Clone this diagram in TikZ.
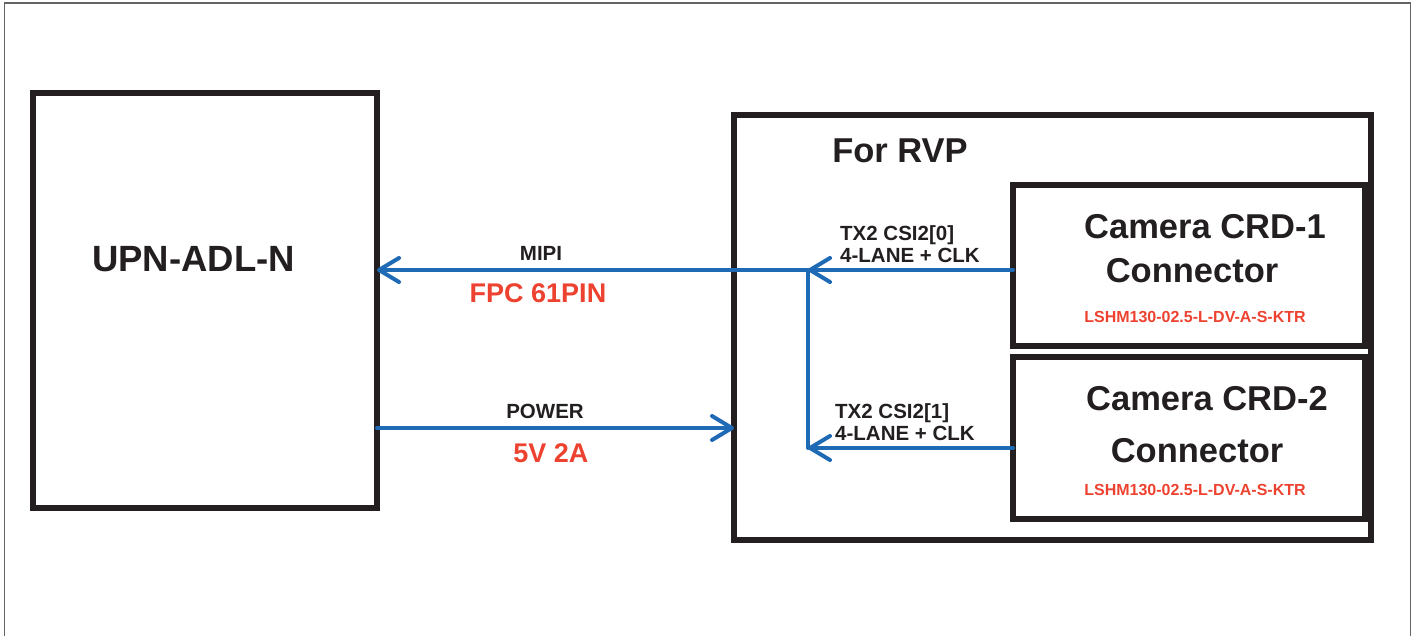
\documentclass[tikz,border=0pt]{standalone}
\usepackage{fontspec}
\setmainfont{Liberation Sans}
\usetikzlibrary{arrows.meta}
\definecolor{lineblue}{RGB}{30,106,181}
\definecolor{partred}{RGB}{238,66,48}
\definecolor{boxblack}{RGB}{35,31,32}
\definecolor{framegray}{RGB}{100,100,100}
\begin{document}
\begin{tikzpicture}[x=1pt,y=-1pt,
  box/.style={draw=boxblack,line width=5.5pt,rectangle,inner sep=0pt,outer sep=0pt},
  sig/.style={draw=lineblue,line width=4pt,line cap=round,-{Straight Barb[length=20pt,width=24pt,round]}},
  wire/.style={draw=lineblue,line width=4pt,line cap=round},
  bigtxt/.style={font=\bfseries\fontsize{34.5}{40}\selectfont,text=boxblack,anchor=base,inner sep=0pt},
  sigtxt/.style={font=\bfseries\fontsize{20.5}{22}\selectfont,text=boxblack,inner sep=0pt},
  redtxt/.style={font=\bfseries\fontsize{27}{30}\selectfont,text=partred,anchor=base,inner sep=0pt},
  parttxt/.style={font=\bfseries\fontsize{16}{18}\selectfont,text=partred,anchor=base,inner sep=0pt}]
\useasboundingbox (0,0) rectangle (1415,636);
\draw[framegray,line width=1.5pt] (4.5,640) -- (4.5,3) -- (1410.5,3) -- (1410.5,640);
\node[box,minimum width=344pt,minimum height=415pt] (upn) at (205,300.5) {};
\node[box,minimum width=637pt,minimum height=425pt] (rvp) at (1052.5,327.5) {};
\node[box,minimum width=352pt,minimum height=161pt] (cam1) at (1189,265.5) {};
\node[box,minimum width=352pt,minimum height=162pt] (cam2) at (1189,438) {};
\node[bigtxt,font=\bfseries\fontsize{36.5}{40}\selectfont] (upnlbl) at (193.5,272) {UPN-ADL-N};
\node[bigtxt] (rvplbl) at (900,163) {For RVP};
\node[bigtxt] (cam1lbl) at (1205,239) {Camera CRD-1};
\node[bigtxt] (cam1con) at (1192,283) {Connector};
\node[parttxt] (cam1part) at (1195,322) {LSHM130-02.5-L-DV-A-S-KTR};
\node[bigtxt] (cam2lbl) at (1207,410) {Camera CRD-2};
\node[bigtxt] (cam2con) at (1197,462) {Connector};
\node[parttxt] (cam2part) at (1195,495) {LSHM130-02.5-L-DV-A-S-KTR};
\coordinate (jA) at (808,270);
\coordinate (jB) at (808,448);
\coordinate (pwr) at (560,428);
\draw[sig] (jA -| cam1.west) -- (jA);
\draw[sig] (jA) -- (jA -| upn.east);
\draw[sig] (jB -| cam2.west) -- (jB);
\draw[wire] (jA) -- (jB);
\draw[sig] (pwr -| upn.east) -- (pwr -| rvp.west);
\node[sigtxt,anchor=base] (mipi) at (541,260) {MIPI};
\node[redtxt] (fpc) at (538,302) {FPC 61PIN};
\node[sigtxt,anchor=base] (power) at (545,418) {POWER};
\node[redtxt] (volt) at (551,462) {5V 2A};
\node[sigtxt,align=left,anchor=north west] (lane0) at (840,225) {TX2 CSI2[0]\\4-LANE + CLK};
\node[sigtxt,align=left,anchor=north west] (lane1) at (835,403) {TX2 CSI2[1]\\4-LANE + CLK};
\end{tikzpicture}
\end{document}
